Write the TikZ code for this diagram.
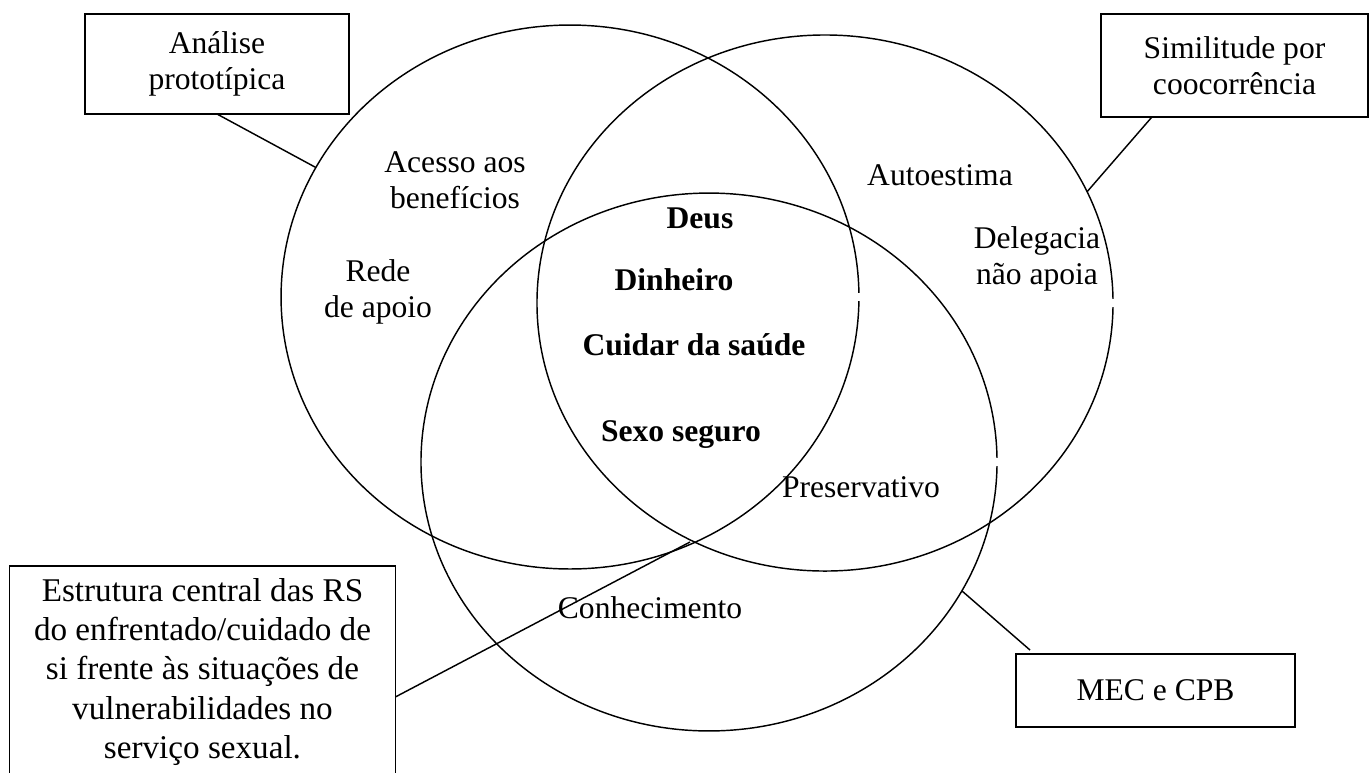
\documentclass[tikz,border=0pt]{standalone}
\usepackage{fontspec}
\setmainfont{Liberation Serif}
\usetikzlibrary{shapes.geometric,calc}
\begin{document}
\begin{tikzpicture}[x=0.38pt,y=-0.38pt,
  ring/.style={draw, ellipse, inner sep=0pt, outer sep=0pt, line width=0.55pt},
  labelbox/.style={draw, line width=0.6pt, inner sep=0pt, outer sep=0pt, align=center, font=\fontsize{12}{13.6}\selectfont},
  term/.style={align=center, inner sep=0pt, font=\fontsize{12}{13.6}\selectfont},
  core/.style={align=center, inner sep=0pt, font=\fontsize{12}{13.6}\selectfont\bfseries},
  link/.style={line width=0.55pt},
  seam/.style={fill=white}]
\clip (0,0) rectangle (1370,772);
\fill[white] (0,0) rectangle (1370,772);
% ellipses
\node[ring, minimum width=219.6pt, minimum height=206.7pt] (L) at (570,297) {};
\node[ring, minimum width=218.9pt, minimum height=203.7pt] (R) at (825,303) {};
\node[ring, minimum width=218.9pt, minimum height=204.4pt] (B) at (709,462) {};
% small seams at the east points of the ellipses
\fill[seam] ($(L.east)+(-4,-4)$) rectangle ($(L.east)+(4,4)$);
\fill[seam] ($(R.east)+(-4,-4)$) rectangle ($(R.east)+(4,4)$);
\fill[seam] ($(B.east)+(-4,-4)$) rectangle ($(B.east)+(4,4)$);
% boxes
\node[labelbox, minimum width=100.3pt, minimum height=38pt] (A) at (217,64) {Análise\\prototípica};
\node[labelbox, minimum width=101.5pt, minimum height=39.1pt] (S) at (1234.5,65.5) {Similitude por\\coocorrência};
\node[labelbox, minimum width=106pt, minimum height=27.7pt] (M) at (1155.5,690.5) {MEC e CPB};
\node[labelbox, minimum width=146.6pt, minimum height=80.6pt, font=\fontsize{12.6}{14.9}\selectfont] (E) at (202.5,672) {Estrutura central das RS\\do enfrentado/cuidado de\\si frente às situações de\\vulnerabilidades no\\serviço sexual.};
% connectors
\coordinate (X) at (690,542);
\draw[link] (A.south) -- (L.153.1);
\draw[link] ($(S.south west)+(51,0)$) -- (R.23.7);
\draw[link] (B.-27.1) -- ($(M.north west)+(14,-4)$);
\draw[link] ($(E.north east)+(0,131)$) -- (X);
% labels
\node[term] (t1) at (455,180) {Acesso aos\\benefícios};
\node[term] (t2) at (378,292) {Rede\\de apoio};
\node[term] (t3) at (940,175) {Autoestima};
\node[term] (t4) at (1037,259) {Delegacia\\não apoia};
\node[core] (c1) at (700,218) {Deus};
\node[core] (c2) at (674,280) {Dinheiro};
\node[core] (c3) at (694,345) {Cuidar da saúde};
\node[core] (c4) at (681,435) {Sexo seguro};
\node[term] (t5) at (861,487) {Preservativo};
\node[term] (t6) at (650,608) {Conhecimento};
\end{tikzpicture}
\end{document}
